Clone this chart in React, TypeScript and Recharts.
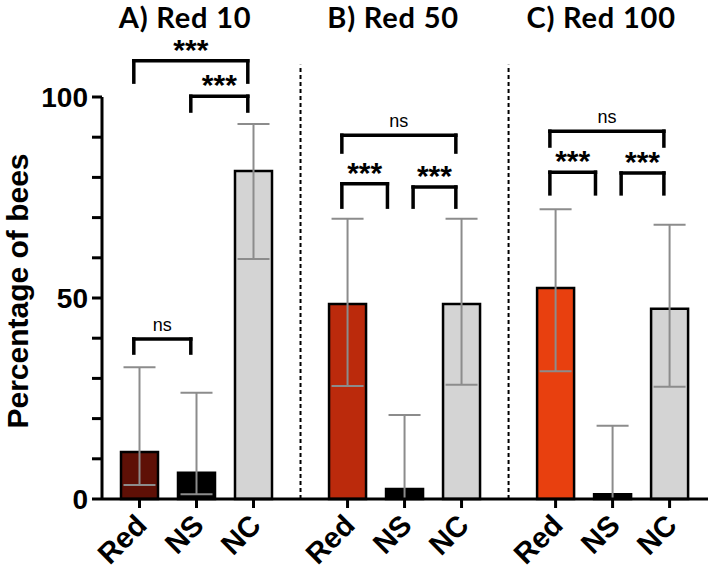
import { Bar, BarChart, Cell, ErrorBar, ReferenceDot, ReferenceLine, XAxis, YAxis } from "recharts";

const groupTitles = ["A) Red 10", "B) Red 50", "C) Red 100"];
const treatments = ["Red", "NS", "NC"];

// mean % of bees per group (rows) and treatment (columns)
const meanPct = [
  [11.7, 6.5, 81.6],
  [48.5, 2.5, 48.5],
  [52.5, 1.2, 47.3],
];
const lowerPct = [
  [3.5, 1.2, 59.7],
  [28.1, 0, 28.4],
  [31.8, 0, 27.9],
];
const upperPct = [
  [32.8, 26.4, 93.3],
  [69.7, 20.9, 69.7],
  [72.1, 18.2, 68.2],
];

// significance brackets
const bracketGroup = [0, 0, 0, 1, 1, 1, 2, 2, 2];
const bracketFrom = [0, 0, 1, 0, 0, 1, 0, 0, 1];
const bracketTo = [1, 2, 2, 2, 1, 2, 2, 1, 2];
const bracketTop = [39.8, 109, 100.2, 90.5, 78.4, 77.6, 91.5, 81.3, 81.1];
const bracketLeg = [36.3, 103.7, 96.5, 86.3, 72.6, 72.6, 87.8, 75.9, 75.9];
const bracketText = ["ns", "***", "***", "ns", "***", "***", "ns", "***", "***"];

const yTicks = [0, 10, 20, 30, 40, 50, 60, 70, 80, 90, 100];
const yLabelled = [0, 50, 100];

const redShades = ["#5e1006", "#bb2a0c", "#e8400f"];
const otherFills = ["#000000", "#d4d4d4"];

const GROUP_GAP = 3.65;
const barPos = (g: number, i: number) => g * GROUP_GAP + i;

const rows = groupTitles.flatMap((_, g) =>
  treatments.map((t, i) => ({
    pos: barPos(g, i),
    group: g,
    idx: i,
    treatment: t,
    mean: meanPct[g][i],
    err: [meanPct[g][i] - lowerPct[g][i], upperPct[g][i] - meanPct[g][i]],
  }))
);

const axisFont = "'Liberation Sans', Arial, sans-serif";

function XTick(props: any) {
  const { x, y, payload } = props;
  let best = rows[0];
  rows.forEach((r) => {
    if (Math.abs(r.pos - payload.value) < Math.abs(best.pos - payload.value)) best = r;
  });
  const ex = x + 9;
  const ey = y + 17;
  return (
    <text
      x={ex}
      y={ey}
      textAnchor="end"
      transform={`rotate(-45 ${ex} ${ey})`}
      fontFamily={axisFont}
      fontWeight="bold"
      fontSize={29}
      fill="#000"
    >
      {best.treatment}
    </text>
  );
}

function YTick(props: any) {
  const { x, y, payload } = props;
  if (!yLabelled.includes(payload.value)) return <g />;
  return (
    <text x={x} y={y} dy={10} textAnchor="end" fontFamily={axisFont} fontWeight="bold" fontSize={28} fill="#000">
      {payload.value}
    </text>
  );
}

function YTitle() {
  return (
    <text
      x={28}
      y={291}
      textAnchor="middle"
      transform="rotate(-90 28 291)"
      fontFamily={axisFont}
      fontWeight="bold"
      fontSize={30}
      fill="#000"
    >
      Percentage of bees
    </text>
  );
}

function sharedEnd(k: number, end: number) {
  // pull bracket ends in when two adjacent brackets at the same level meet on the middle bar
  if (end !== 1) return false;
  const g = bracketGroup[k];
  return bracketGroup.some(
    (bg, j) =>
      j !== k &&
      bg === g &&
      Math.abs(bracketTo[j] - bracketFrom[j]) === 1 &&
      Math.abs(bracketTop[j] - bracketTop[k]) < 3
  );
}

export default function App() {
  const line = { stroke: "#000", strokeWidth: 3.5, strokeLinecap: "square" as const, ifOverflow: "visible" as const };

  return (
    <div style={{ position: "absolute", left: 0, top: 0, background: "#fff" }}>
      <BarChart width={711} height={577} data={rows} margin={{ top: 97, right: 3, bottom: 0, left: 0 }}>
        <XAxis
          dataKey="pos"
          type="number"
          domain={[-0.658, 9.974]}
          allowDataOverflow
          ticks={rows.map((r) => r.pos)}
          interval={0}
          tick={(p: any) => <XTick {...p} />}
          tickSize={9}
          tickLine={{ stroke: "#000", strokeWidth: 3 }}
          axisLine={{ stroke: "#000", strokeWidth: 3 }}
          height={78}
        />
        <YAxis
          type="number"
          domain={[0, 100]}
          ticks={yTicks}
          interval={0}
          width={102}
          tickSize={10}
          tickMargin={4}
          tick={(p: any) => <YTick {...p} />}
          tickLine={{ stroke: "#000", strokeWidth: 3 }}
          axisLine={{ stroke: "#000", strokeWidth: 3 }}
          label={<YTitle />}
        />
        <Bar dataKey="mean" barSize={37} stroke="#000" strokeWidth={2.5} isAnimationActive={false}>
          {rows.map((r) => (
            <Cell key={r.pos} fill={r.idx === 0 ? redShades[r.group] : otherFills[r.idx - 1]} />
          ))}
          <ErrorBar dataKey="err" direction="y" width={16} stroke="#8c8c8c" strokeWidth={2} isAnimationActive={false} />
        </Bar>

        {[0, 1].map((g) => {
          const mid = (barPos(g, 2) + barPos(g + 1, 0)) / 2;
          return (
            <ReferenceLine
              key={`div${g}`}
              segment={[
                { x: mid, y: 0 },
                { x: mid, y: 108 },
              ]}
              stroke="#000"
              strokeWidth={2}
              strokeDasharray="4 3"
              ifOverflow="visible"
            />
          );
        })}

        {groupTitles.map((t, g) => (
          <ReferenceDot
            key={t}
            x={barPos(g, 1) - 0.2}
            y={119.8}
            r={0}
            stroke="none"
            ifOverflow="visible"
            label={{
              value: t,
              position: "center",
              fontFamily: "Lato, 'Open Sans', sans-serif",
              fontWeight: "bold",
              fontSize: 29,
              letterSpacing: 0.8,
              fill: "#000",
            }}
          />
        ))}

        {bracketText.map((txt, k) => {
          const g = bracketGroup[k];
          const x1 = barPos(g, bracketFrom[k]) - 0.1 + (sharedEnd(k, bracketFrom[k]) ? 0.25 : 0);
          const x2 = barPos(g, bracketTo[k]) - 0.1 - (sharedEnd(k, bracketTo[k]) ? 0.2 : 0);
          const top = bracketTop[k];
          const leg = bracketLeg[k];
          const stars = txt === "***";
          return [
            <ReferenceLine
              key={`h${k}`}
              segment={[
                { x: x1, y: top },
                { x: x2, y: top },
              ]}
              {...line}
              label={{
                value: txt,
                position: "top",
                offset: stars ? 1 : 8,
                fontFamily: axisFont,
                fontWeight: stars ? "bold" : "normal",
                fontSize: stars ? 30 : 18,
                fill: "#000",
              }}
            />,
            <ReferenceLine
              key={`l${k}`}
              segment={[
                { x: x1, y: top },
                { x: x1, y: leg },
              ]}
              {...line}
            />,
            <ReferenceLine
              key={`r${k}`}
              segment={[
                { x: x2, y: top },
                { x: x2, y: leg },
              ]}
              {...line}
            />,
          ];
        })}
      </BarChart>
    </div>
  );
}
